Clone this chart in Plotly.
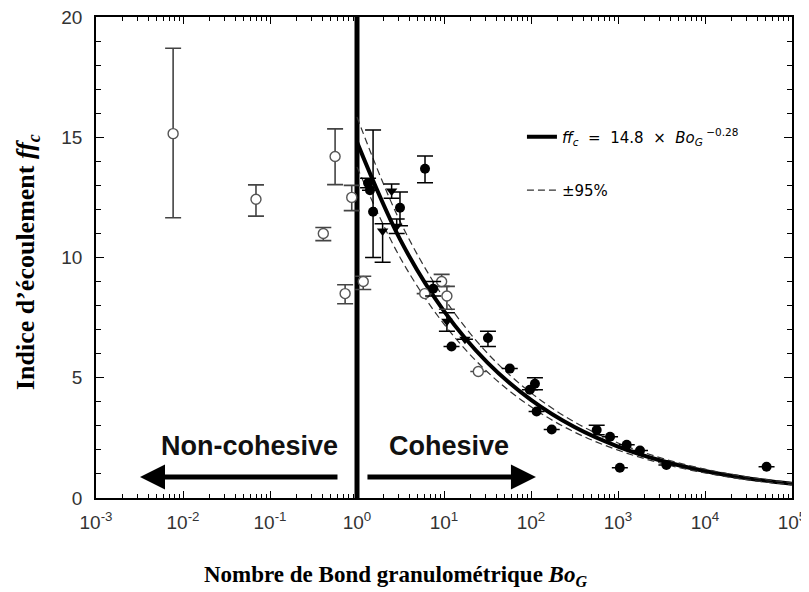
import plotly.graph_objects as go

# ---------------- data ----------------
open_x = [0.0077, 0.069, 0.41, 0.56, 0.73, 0.87, 1.18, 6.0, 9.4, 10.8, 24.8]
open_y = [15.15, 12.42, 11.0, 14.2, 8.5, 12.5, 9.0, 8.5, 9.0, 8.4, 5.26]
open_err_plus = [3.55, 0.6, 0.25, 1.15, 0.37, 0.5, 0.22, 0.0, 0.3, 0.4, 0.0]
open_err_minus = [3.5, 0.7, 0.3, 1.17, 0.42, 0.55, 0.33, 0.0, 0.2, 0.55, 0.0]

filled_x = [1.34, 1.41, 1.53, 3.12, 6.05, 7.5, 12.2, 32, 57, 97, 111, 116, 173,
            569, 810, 1050, 1260, 1790, 3600, 51000]
filled_y = [13.1, 12.8, 11.9, 12.07, 13.69, 8.7, 6.3, 6.65, 5.38, 4.5, 4.75, 3.6, 2.85,
            2.83, 2.55, 1.26, 2.21, 1.97, 1.37, 1.3]
filled_err_plus = [0.2, 0.0, 3.4, 0.65, 0.53, 0.3, 0.0, 0.28, 0.0, 0.0, 0.25, 0.0, 0.0,
                   0.2, 0.0, 0.0, 0.0, 0.0, 0.0, 0.0]
filled_err_minus = [0.2, 0.0, 1.9, 0.75, 0.58, 0.3, 0.0, 0.35, 0.0, 0.0, 0.25, 0.0, 0.0,
                    0.2, 0.0, 0.0, 0.0, 0.0, 0.0, 0.0]

tri_x = [1.97, 2.5, 2.86, 10.8, 17.4]
tri_y = [11.1, 12.76, 11.3, 7.35, 6.6]
tri_err_plus = [0.3, 0.3, 0.3, 0.35, 0.0]
tri_err_minus = [1.3, 0.3, 0.3, 0.42, 0.0]

# fitted curve ffc = 14.8 x Bo^-0.28 and its +/-95% band, read at half decades
fit_x = [1, 3.16, 10, 31.6, 100, 316, 1000, 3162, 10000, 31623, 100000]
fit_y = [14.8, 10.72, 7.77, 5.63, 4.08, 2.95, 2.14, 1.55, 1.12, 0.81, 0.59]
upper_y = [15.84, 11.47, 8.31, 6.02, 4.37, 3.16, 2.29, 1.66, 1.20, 0.87, 0.63]
lower_y = [13.76, 9.97, 7.23, 5.24, 3.79, 2.74, 1.99, 1.44, 1.04, 0.75, 0.55]

boundary_x = [1, 1]
boundary_y = [0, 20]

x_tick_vals = [1e-3, 1e-2, 1e-1, 1e0, 1e1, 1e2, 1e3, 1e4, 1e5]
x_tick_text = ["10<sup>-3</sup>", "10<sup>-2</sup>", "10<sup>-1</sup>", "10<sup>0</sup>",
               "10<sup>1</sup>", "10<sup>2</sup>", "10<sup>3</sup>", "10<sup>4</sup>",
               "10<sup>5</sup>"]
y_tick_vals = [0, 5, 10, 15, 20]

fit_label = "<i>ff<sub>c</sub></i>  =  14.8  ×  <i>Bo<sub>G</sub></i><sup> −0.28</sup>"
band_label = "±95%"

# ---------------- figure ----------------
fig = go.Figure()

fig.add_trace(go.Scatter(x=boundary_x, y=boundary_y, mode="lines",
                         line=dict(color="black", width=5), showlegend=False,
                         hoverinfo="skip"))

fig.add_trace(go.Scatter(x=fit_x, y=fit_y, mode="lines", name=fit_label,
                         line=dict(color="black", width=4, shape="spline"),
                         legendgroup="fit"))
fig.add_trace(go.Scatter(x=fit_x, y=upper_y, mode="lines", name=band_label,
                         line=dict(color="#333", width=1.2, dash="7px,4px", shape="spline"),
                         legendgroup="band"))
fig.add_trace(go.Scatter(x=fit_x, y=lower_y, mode="lines", name=band_label,
                         line=dict(color="#333", width=1.2, dash="7px,4px", shape="spline"),
                         legendgroup="band", showlegend=False))

fig.add_trace(go.Scatter(
    x=open_x, y=open_y, mode="markers", showlegend=False,
    marker=dict(symbol="circle", size=10, color="white", line=dict(color="#555", width=1.4)),
    error_y=dict(type="data", symmetric=False, array=open_err_plus,
                 arrayminus=open_err_minus, color="#444", thickness=1.6, width=8)))

fig.add_trace(go.Scatter(
    x=tri_x, y=tri_y, mode="markers", showlegend=False,
    marker=dict(symbol="triangle-down", size=10, color="black"),
    error_y=dict(type="data", symmetric=False, array=tri_err_plus,
                 arrayminus=tri_err_minus, color="black", thickness=1.5, width=8)))

fig.add_trace(go.Scatter(
    x=filled_x, y=filled_y, mode="markers", showlegend=False,
    marker=dict(symbol="circle", size=10, color="black"),
    error_y=dict(type="data", symmetric=False, array=filled_err_plus,
                 arrayminus=filled_err_minus, color="black", thickness=1.5, width=8)))

minor_vals = [k * 10.0 ** e for e in range(-3, 5) for k in range(2, 10)]

tick_font = dict(family="Liberation Sans, Arial, sans-serif", size=19, color="#333")
serif = "Liberation Serif, Times New Roman, serif"

# the page body has an 8px margin: the figure is sized and placed to compensate
fig.update_layout(
    width=801, height=584,
    margin=dict(l=88, r=17, t=9, b=94, autoexpand=False),
    paper_bgcolor="white", plot_bgcolor="white",
    showlegend=True,
    legend=dict(x=0.612, y=0.785, xanchor="left", yanchor="top",
                bgcolor="rgba(0,0,0,0)", tracegroupgap=31,
                font=dict(family="DejaVu Sans, Verdana, sans-serif", size=15, color="black"),
                itemwidth=30),
    xaxis=dict(type="log", range=[-3, 5], tickmode="array", tickvals=x_tick_vals,
               ticktext=x_tick_text, ticks="inside", ticklen=7, tickwidth=1,
               tickcolor="black", showgrid=False, zeroline=False, showline=True,
               linecolor="black", linewidth=1.5, mirror="ticks", tickfont=tick_font,
               ticklabelstandoff=6, automargin=False, ticklabeloverflow="allow",
               minor=dict(tickmode="array", tickvals=minor_vals, ticks="inside",
                          ticklen=4, tickcolor="black", showgrid=False)),
    yaxis=dict(range=[0, 20], tickmode="array", tickvals=y_tick_vals, ticks="inside",
               ticklen=8, tickwidth=1, tickcolor="black", showgrid=False, zeroline=False,
               showline=True, linecolor="black", linewidth=1.5, mirror="ticks",
               tickfont=tick_font, ticklabelstandoff=8, automargin=False,
               ticklabeloverflow="allow",
               minor=dict(dtick=1, ticks="inside", ticklen=5, tickcolor="black",
                          showgrid=False)),
)

# region arrows and labels
fig.add_annotation(x=-2.494, y=0.875, ax=-0.207, ay=0.875, xref="x", yref="y",
                   axref="x", ayref="y", text="", showarrow=True, arrowhead=2,
                   arrowsize=1, arrowwidth=5, arrowcolor="black")
fig.add_annotation(x=2.057, y=0.875, ax=0.103, ay=0.875, xref="x", yref="y",
                   axref="x", ayref="y", text="", showarrow=True, arrowhead=2,
                   arrowsize=1, arrowwidth=5, arrowcolor="black")
fig.add_annotation(x=-1.23, y=2.15, xref="x", yref="y", text="<b>Non-cohesive</b>",
                   showarrow=False,
                   font=dict(family="Liberation Sans, Arial, sans-serif", size=27, color="#111"))
fig.add_annotation(x=1.057, y=2.15, xref="x", yref="y", text="<b>Cohesive</b>",
                   showarrow=False,
                   font=dict(family="Liberation Sans, Arial, sans-serif", size=27, color="#111"))

# axis titles
fig.add_annotation(x=-0.098, y=0.49, xref="paper", yref="paper", textangle=-90,
                   text="<b>Indice d’écoulement <i>ff<sub>c</sub></i></b>",
                   showarrow=False, xanchor="center", yanchor="middle",
                   font=dict(family=serif, size=26, color="black"))
fig.add_annotation(x=0.43, y=-0.163, xref="paper", yref="paper",
                   text="<b>Nombre de Bond granulométrique <i>Bo<sub>G</sub></i></b>",
                   showarrow=False, xanchor="center", yanchor="middle",
                   font=dict(family=serif, size=23, color="black"))

fig.write_html("out.html")
